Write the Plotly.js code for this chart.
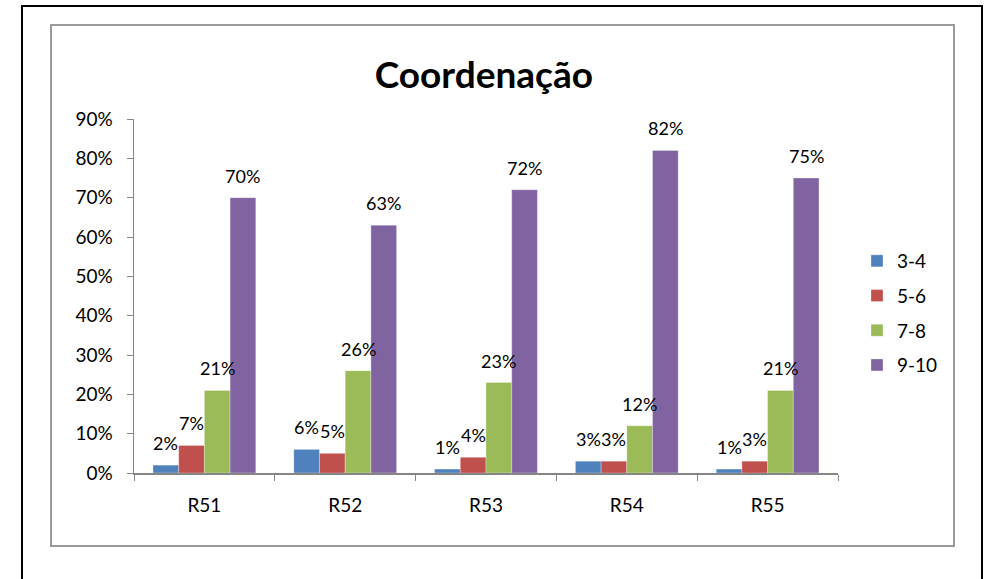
<!DOCTYPE html>
<html>
<head>
<meta charset="utf-8">
<script src="https://cdn.plot.ly/plotly-3.0.1.min.js"></script>
<style>html,body{margin:0;padding:0;background:#fff}#chart{width:984px;height:579px}</style>
</head>
<body>
<div id="chart"></div>
<script>
const categories = ["R51", "R52", "R53", "R54", "R55"];
const seriesNames = ["3-4", "5-6", "7-8", "9-10"];
const s34 = [0.02, 0.06, 0.01, 0.03, 0.01];
const s56 = [0.07, 0.05, 0.04, 0.03, 0.03];
const s78 = [0.21, 0.26, 0.23, 0.12, 0.21];
const s910 = [0.70, 0.63, 0.72, 0.82, 0.75];
const colors = ["#4F81BD", "#C0504D", "#9BBB59", "#8064A2"];
const allSeries = [s34, s56, s78, s910];

const FONT = "Lato, 'Liberation Sans', sans-serif";
const bargap = 0.27;

const traces = allSeries.map((vals, i) => ({
  type: "bar",
  name: seriesNames[i],
  x: categories,
  y: vals,
  marker: {color: colors[i], line: {color: "rgba(255,255,255,0.6)", width: 0.5}},
  legendgroup: "g" + i,
  hoverinfo: "skip"
}));

// Data labels as annotations, positioned from category index and series index
const annotations = [];
const w = (1 - bargap) / allSeries.length;
allSeries.forEach((vals, i) => {
  vals.forEach((v, j) => {
    annotations.push({
      x: j + (i - (allSeries.length - 1) / 2) * w,
      y: v,
      xref: "x", yref: "y",
      text: Math.round(v * 100) + "%",
      showarrow: false,
      yanchor: "middle",
      yshift: 22,
      font: {family: FONT, size: 18, color: "#000"}
    });
  });
});

// Frame geometry (pixels -> paper)
const L = 134, R = 146, T = 119, B = 106;
const PW = 984 - L - R, PH = 579 - T - B;
const px = v => (v - L) / PW;
const py = v => (579 - B - v) / PH;

const shapes = [
  {type: "rect", xref: "paper", yref: "paper", x0: px(22), x1: px(982), y0: py(600), y1: py(6),
   line: {color: "#000", width: 2}, layer: "below"},
  {type: "rect", xref: "paper", yref: "paper", x0: px(51), x1: px(954), y0: py(546), y1: py(25),
   line: {color: "#9a9a9a", width: 2}, layer: "below"}
];

const layout = {
  width: 984, height: 579,
  margin: {l: L, r: R, t: T, b: B},
  paper_bgcolor: "#fff", plot_bgcolor: "rgba(0,0,0,0)",
  font: {family: FONT, size: 18, color: "#000"},
  title: {text: "<b>Coordenação</b>", font: {family: FONT, size: 37, color: "#000"},
          x: 489 / 984, xanchor: "center", xref: "paper", y: 1 - 75 / 579, yanchor: "middle"},
  barmode: "group", bargap: bargap, bargroupgap: 0,
  xaxis: {
    type: "category", showgrid: false, zeroline: false,
    showline: true, linecolor: "#868686", linewidth: 1.5,
    ticks: "outside", tickson: "boundaries", ticklen: 6, tickcolor: "#868686",
    tickfont: {family: FONT, size: 19}, ticklabelstandoff: 15
  },
  yaxis: {
    range: [0, 0.9], dtick: 0.1, tickformat: ".0%", showgrid: false, zeroline: false,
    showline: true, linecolor: "#868686", linewidth: 1.5,
    ticks: "outside", ticklen: 6, tickcolor: "#868686",
    tickfont: {family: FONT, size: 19}, ticklabelstandoff: 10
  },
  legend: {
    x: px(857), xanchor: "left", y: py(313), yanchor: "middle",
    font: {family: FONT, size: 19}, traceorder: "grouped", tracegroupgap: 7,
    bgcolor: "rgba(0,0,0,0)", itemwidth: 30
  },
  showlegend: true,
  shapes: shapes,
  annotations: annotations
};

Plotly.newPlot("chart", traces, layout, {displayModeBar: false, staticPlot: true});
</script>
</body>
</html>
